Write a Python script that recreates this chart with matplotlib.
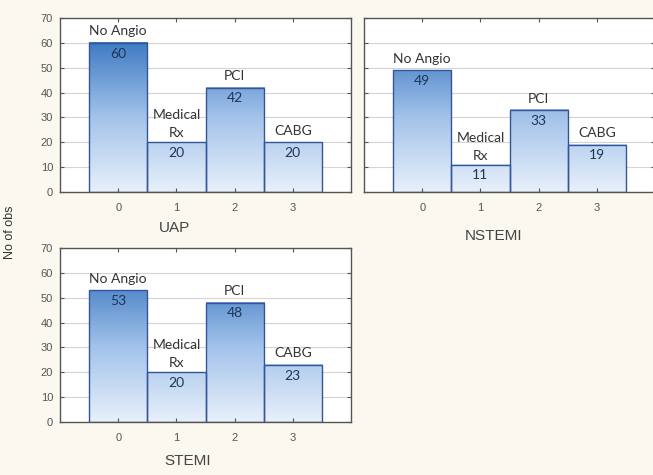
import numpy as np
import matplotlib
matplotlib.use("Agg")
import matplotlib.pyplot as plt
from matplotlib.colors import LinearSegmentedColormap

# counts per treatment group for each presentation
groups = ["UAP", "NSTEMI", "STEMI"]
codes = [0, 1, 2, 3]
treatments = ["No Angio", "Medical\nRx", "PCI", "CABG"]
uap = [60, 20, 42, 20]
nstemi = [49, 11, 33, 19]
stemi = [53, 20, 48, 23]
counts = [uap, nstemi, stemi]

plt.rcParams["font.family"] = ["Liberation Sans", "DejaVu Sans"]

bg = "#fbf8ef"
blue = LinearSegmentedColormap.from_list("blu", ["#e8f0fb", "#a3c3ea", "#3f7bc3"])

W, H = 653, 475
fig = plt.figure(figsize=(W / 100, H / 100), dpi=100, facecolor=bg)

def px_axes(x0, y0, x1, y1):
    return fig.add_axes([x0 / W, 1 - y1 / H, (x1 - x0) / W, (y1 - y0) / H])

axes = [px_axes(60, 18, 351, 192), px_axes(364, 18, 655, 192), px_axes(60, 248, 351, 422)]
label_pos = [(174, 228), (494, 236), (188, 461)]

for ax, vals, name, (lx, ly) in zip(axes, counts, groups, label_pos):
    ax.set_facecolor("white")
    for y in range(10, 70, 10):
        ax.axhline(y, color="#d4d4d4", lw=0.8, zorder=0)
    for x, v, t in zip(codes, vals, treatments):
        grad = np.linspace(0, v / 60, 200).reshape(-1, 1)
        ax.imshow(grad, cmap=blue, vmin=0, vmax=1, origin="lower", aspect="auto",
                  extent=[x - 0.5, x + 0.5, 0, v], zorder=1, interpolation="bilinear")
        ax.bar(x, v, width=1.0, facecolor="none", edgecolor="#34559a", lw=1.0, zorder=2)
        ax.text(x, v - 4.3, str(v), ha="center", va="center", fontsize=10,
                family="Lato", color="#1f3557", zorder=3)
        if "\n" in t:
            ax.text(x, v + 1.2, t, ha="center", va="bottom", fontsize=10,
                    family="Lato", color="#333333", linespacing=1.6, zorder=3)
        else:
            ax.text(x, v + 4.6, t, ha="center", va="center", fontsize=10,
                    family="Lato", color="#333333", zorder=3)
    ax.set_xlim(-1, 4)
    ax.set_ylim(0, 70)
    ax.set_xticks(codes)
    ax.set_yticks(range(0, 80, 10))
    ax.tick_params(direction="in", length=3, top=True, right=True, color="#555555",
                   labelsize=8, labelcolor="#555555", pad=5)
    ax.tick_params(axis="x", pad=8)
    if name == "NSTEMI":
        ax.tick_params(axis="y", labelleft=False)
    for s in ax.spines.values():
        s.set_color("#555555")
        s.set_linewidth(1.0)
    fig.text(lx / W, 1 - ly / H, name, ha="center", va="center", fontsize=11,
             color="#444444")

fig.text(10 / W, 1 - 232 / H, "No of obs", rotation=90, ha="center", va="center",
         fontsize=9, color="#333333")

fig.savefig("out.png", dpi=100, facecolor=bg)
